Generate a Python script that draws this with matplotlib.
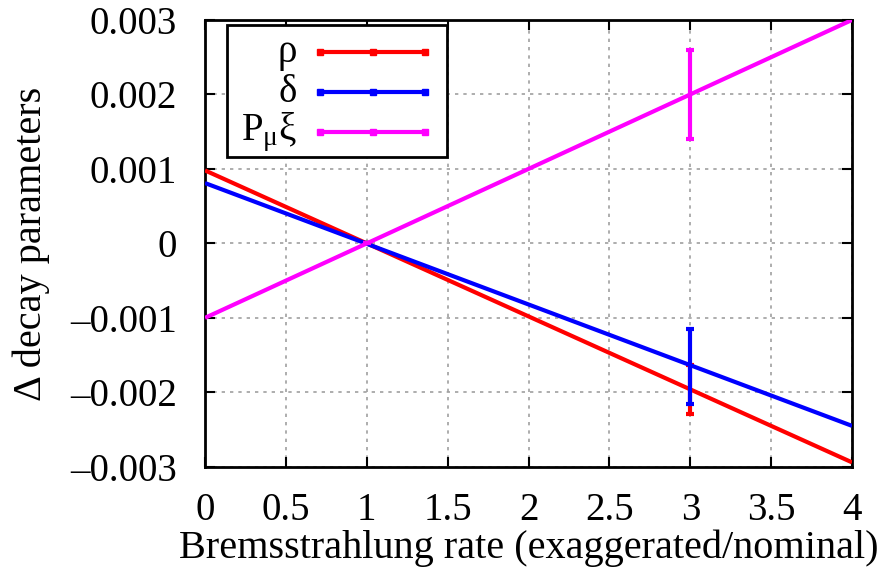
import matplotlib
matplotlib.use("Agg")
import matplotlib.pyplot as plt
from matplotlib.patches import Rectangle
from matplotlib.ticker import FuncFormatter

plt.rcParams['font.family'] = ['Liberation Serif', 'DejaVu Serif']
plt.rcParams['mathtext.fontset'] = 'custom'
plt.rcParams['mathtext.rm'] = 'Liberation Serif'
plt.rcParams['mathtext.it'] = 'Liberation Serif'

# fit lines evaluated at the ends of the x range
line_x = [0.0, 4.0]
rho_line = [0.00098, -0.00294]
delta_line = [0.00081, -0.00245]
pxi_line = [-0.00100, 0.00300]

# measured shifts with errors
pt_x = [1.0, 3.0]
rho_pt = [0.0, -0.00196]
rho_err = [0.0, 0.00033]
delta_pt = [0.0, -0.00165]
delta_err = [0.0, 0.00050]
pxi_pt = [0.0, 0.00200]
pxi_err = [0.0, 0.00060]

labels = ['ρ', 'δ', r'P$_{\mathrm{μ}}$ξ']
colors = ['#ff0000', '#0000ff', '#ff00ff']

fig = plt.figure(figsize=(8.89, 5.70), dpi=100)
ax = fig.add_axes([0.2306, 0.181, 0.7278, 0.784])

series = [(rho_line, rho_pt, rho_err), (delta_line, delta_pt, delta_err),
          (pxi_line, pxi_pt, pxi_err)]
for (ln, pt, err), c in zip(series, colors):
    ax.plot(line_x, ln, color=c, lw=3, solid_capstyle='butt', zorder=3)
    ax.errorbar(pt_x, pt, yerr=err, fmt='none', ecolor=c, elinewidth=3,
                capsize=3, capthick=3, zorder=3)

ax.set_xlim(0, 4)
ax.set_ylim(-0.003, 0.003)
ax.set_xticks([0, 0.5, 1, 1.5, 2, 2.5, 3, 3.5, 4])
ax.set_yticks([-0.003, -0.002, -0.001, 0, 0.001, 0.002, 0.003])
ax.xaxis.set_major_formatter(FuncFormatter(lambda v, p: ('%g' % v)))
ax.yaxis.set_major_formatter(
    FuncFormatter(lambda v, p: '0' if abs(v) < 1e-9 else ('%.3f' % v).replace('-', '–')))
ax.tick_params(direction='in', length=7, width=1.5, top=True, right=True,
               labelsize=28)
ax.tick_params(axis='x', pad=18)
ax.tick_params(axis='y', pad=20)
ax.grid(True, color='#a0a0a0', linestyle=(0, (2, 3)), lw=1.2)
for s in ax.spines.values():
    s.set_linewidth(2)

fig.text(0.595, 0.021, 'Bremsstrahlung rate (exaggerated/nominal)', fontsize=29,
         ha='center', va='baseline')
fig.text(0.035, 0.572, 'Δ decay parameters', fontsize=29, rotation=90,
         ha='center', va='center')

# key box with right-aligned labels
ax.add_patch(Rectangle((0.034, 0.6935), 0.340, 0.2955, transform=ax.transAxes,
                       facecolor='white', edgecolor='black', lw=2, zorder=5))
for i, (lab, c) in enumerate(zip(labels, colors)):
    yy = 0.928 - i * 0.0895
    ax.text(0.142, yy, lab, transform=ax.transAxes, fontsize=28, ha='right',
            va='center', zorder=6)
    ax.plot([0.178, 0.259, 0.340], [yy, yy, yy], transform=ax.transAxes,
            color=c, lw=3, marker='s', markersize=4, zorder=6, clip_on=False)

fig.savefig('out.png', dpi=100)
